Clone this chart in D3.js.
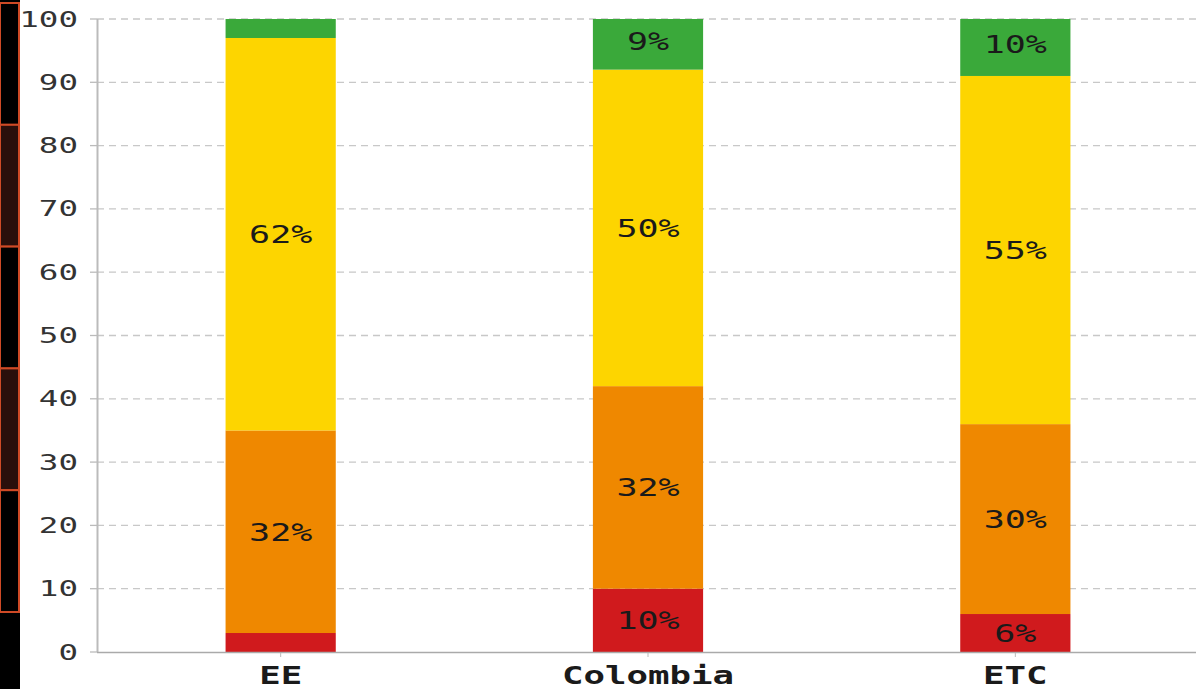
<!DOCTYPE html>
<html><head><meta charset="utf-8">
<script src="https://cdn.jsdelivr.net/npm/d3@7"></script>
<style>html,body{margin:0;padding:0;background:#fff;overflow:hidden}</style>
</head><body>
<svg id="c" width="1196" height="689"></svg>
<script>
const categories = ["EE", "Colombia", "ETC"];
const seriesNames = ["Muy bajo", "Bajo", "Medio", "Alto"];
const red    = [3, 10, 6];
const orange = [32, 32, 30];
const yellow = [62, 50, 55];
const green  = [3, 9, 10];
const yTicks = [0, 10, 20, 30, 40, 50, 60, 70, 80, 90, 100];
const colors = ["#d01a1d", "#ef8800", "#fdd500", "#3aa93a"];
const series = [red, orange, yellow, green];

const svg = d3.select("#c");
const W = 1196, H = 689;
const mono = "'DejaVu Sans Mono', monospace";

// left decorative strip
svg.append("rect").attr("x", 0).attr("y", 0).attr("width", 20).attr("height", H).attr("fill", "#000");
const boxes = [0, 1, 2, 3, 4];
svg.selectAll("rect.box").data(boxes).enter().append("rect")
  .attr("class", "box")
  .attr("x", 0).attr("y", d => 3 + d * 121.8)
  .attr("width", 19).attr("height", 121.8)
  .attr("fill", d => d % 2 ? "#2a0f0b" : "#000")
  .attr("stroke", "#cf4a26").attr("stroke-width", 2);

const x = d3.scaleBand().domain(categories).range([97, 1199]).paddingInner(0.7).paddingOuter(0.35);
const y = d3.scaleLinear().domain([0, 100]).range([652, 19]);

// gridlines
svg.append("g").selectAll("line").data(yTicks.filter(d => d > 0)).enter().append("line")
  .attr("x1", 97).attr("x2", W).attr("y1", d => y(d)).attr("y2", d => y(d))
  .attr("stroke", "#c8c8c8").attr("stroke-width", 1.3).attr("stroke-dasharray", "7,5");

// stacked data
const rows = categories.map((c, i) => {
  const o = { cat: c };
  series.forEach((s, k) => o["s" + k] = s[i]);
  return o;
});
const stack = d3.stack().keys(series.map((s, k) => "s" + k))(rows);

svg.append("clipPath").attr("id", "clip").append("rect")
  .attr("x", 97).attr("y", y(100)).attr("width", W).attr("height", y(0) - y(100));

const gBars = svg.append("g").attr("clip-path", "url(#clip)");
stack.forEach((layer, k) => {
  gBars.selectAll(null).data(layer).enter().append("rect")
    .attr("x", d => x(d.data.cat))
    .attr("width", x.bandwidth())
    .attr("y", d => y(d[1]))
    .attr("height", d => y(d[0]) - y(d[1]))
    .attr("fill", colors[k]);
});

// value labels
stack.forEach((layer, k) => {
  svg.selectAll(null).data(layer.filter(d => d[1] - d[0] >= 5)).enter().append("text")
    .attr("transform", d => `translate(${x(d.data.cat) + x.bandwidth() / 2},${y((d[0] + d[1]) / 2)}) scale(1.4,1)`)
    .attr("text-anchor", "middle").attr("dy", "0.36em")
    .attr("font-family", mono).attr("font-size", 25).attr("fill", "#1a1a1a")
    .text(d => (d[1] - d[0]) + "%");
});

// y axis
svg.append("line").attr("x1", 97.5).attr("x2", 97.5).attr("y1", y(100)).attr("y2", y(0))
  .attr("stroke", "#bbbbbb").attr("stroke-width", 2);
svg.append("g").selectAll("line").data(yTicks).enter().append("line")
  .attr("x1", 90).attr("x2", 97).attr("y1", d => y(d)).attr("y2", d => y(d))
  .attr("stroke", "#bbbbbb").attr("stroke-width", 1.3);
svg.append("g").selectAll("text").data(yTicks).enter().append("text")
  .attr("transform", d => `translate(78,${y(d)}) scale(1.55,1)`)
  .attr("text-anchor", "end").attr("dy", "0.36em")
  .attr("font-family", mono).attr("font-size", 21).attr("fill", "#333")
  .text(d => d);

// x axis
svg.append("line").attr("x1", 97).attr("x2", W).attr("y1", 652.5).attr("y2", 652.5)
  .attr("stroke", "#aaaaaa").attr("stroke-width", 1.5);
svg.append("g").selectAll("line").data(categories).enter().append("line")
  .attr("x1", d => x(d) + x.bandwidth() / 2).attr("x2", d => x(d) + x.bandwidth() / 2)
  .attr("y1", 653).attr("y2", 657).attr("stroke", "#bbb").attr("stroke-width", 1);
svg.append("g").selectAll("text").data(categories).enter().append("text")
  .attr("transform", d => `translate(${x(d) + x.bandwidth() / 2},684) scale(1.49,1)`)
  .attr("text-anchor", "middle")
  .attr("font-family", mono).attr("font-weight", "bold").attr("font-size", 24).attr("fill", "#1a1a1a")
  .text(d => d);
</script>
</body></html>
